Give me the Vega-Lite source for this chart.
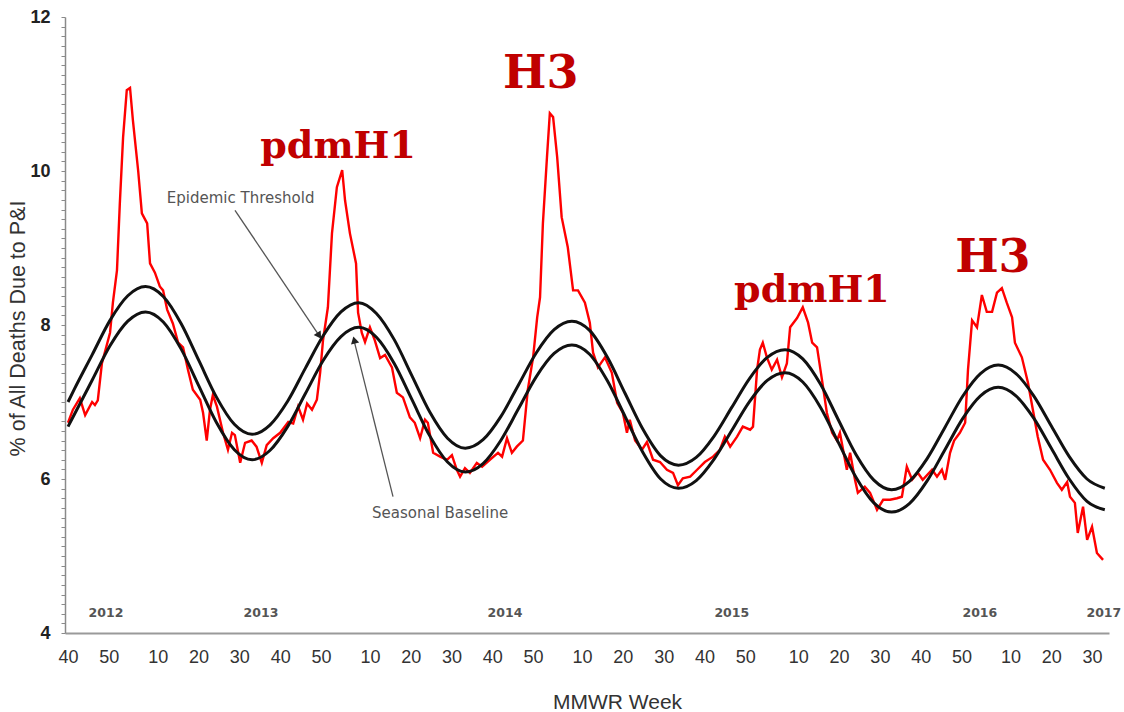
{
  "$schema": "https://vega.github.io/schema/vega-lite/v6.json",
  "width": 1044,
  "height": 616,
  "autosize": {"type": "none"},
  "padding": {"left": 65, "top": 17, "right": 15, "bottom": 79},
  "background": "white",
  "config": {"view": {"stroke": null}, "axis": {"grid": false}},
  "datasets": {
    "observed": [
      {"week": 0, "pct": 6.73}, {"week": 1.2, "pct": 6.9}, {"week": 2.9, "pct": 7.05}, {"week": 4.2, "pct": 6.83}, {"week": 5.9, "pct": 7.0}, {"week": 6.6, "pct": 6.96}, {"week": 7.3, "pct": 7.02}, {"week": 8.3, "pct": 7.5}, {"week": 10.3, "pct": 7.9}, {"week": 11, "pct": 8.29}, {"week": 12, "pct": 8.71}, {"week": 12.7, "pct": 9.58}, {"week": 13.5, "pct": 10.44}, {"week": 14.4, "pct": 11.05}, {"week": 15.2, "pct": 11.08}, {"week": 15.9, "pct": 10.66}, {"week": 17.2, "pct": 10.0}, {"week": 18.1, "pct": 9.45}, {"week": 19.4, "pct": 9.32}, {"week": 20.1, "pct": 8.8}, {"week": 21.3, "pct": 8.68}, {"week": 22.5, "pct": 8.5}, {"week": 23.3, "pct": 8.45}, {"week": 24.3, "pct": 8.2}, {"week": 25.7, "pct": 8.02}, {"week": 27, "pct": 7.77}, {"week": 28.2, "pct": 7.71}, {"week": 29.4, "pct": 7.42}, {"week": 30.6, "pct": 7.16}, {"week": 32.4, "pct": 7.03}, {"week": 33.1, "pct": 6.86}, {"week": 34, "pct": 6.5}, {"week": 34.8, "pct": 6.9}, {"week": 35.5, "pct": 7.09}, {"week": 36.5, "pct": 6.94}, {"week": 38, "pct": 6.6}, {"week": 39.2, "pct": 6.38}, {"week": 40.2, "pct": 6.6}, {"week": 40.9, "pct": 6.57}, {"week": 42.2, "pct": 6.21}, {"week": 43.4, "pct": 6.47}, {"week": 45, "pct": 6.5}, {"week": 46.2, "pct": 6.42}, {"week": 47.5, "pct": 6.21}, {"week": 48.7, "pct": 6.44}, {"week": 50.3, "pct": 6.53}, {"week": 52, "pct": 6.6}, {"week": 54, "pct": 6.74}, {"week": 55.2, "pct": 6.72}, {"week": 56.4, "pct": 6.94}, {"week": 57.6, "pct": 6.77}, {"week": 58.6, "pct": 6.98}, {"week": 59.8, "pct": 6.9}, {"week": 61, "pct": 7.03}, {"week": 61.8, "pct": 7.38}, {"week": 62.5, "pct": 7.8}, {"week": 63.7, "pct": 8.23}, {"week": 64.7, "pct": 9.19}, {"week": 65.9, "pct": 9.79}, {"week": 67.2, "pct": 10.01}, {"week": 67.9, "pct": 9.62}, {"week": 69.1, "pct": 9.19}, {"week": 70.6, "pct": 8.8}, {"week": 71.1, "pct": 8.16}, {"week": 72, "pct": 7.9}, {"week": 72.8, "pct": 7.78}, {"week": 74, "pct": 7.97}, {"week": 75.2, "pct": 7.8}, {"week": 76.5, "pct": 7.57}, {"week": 77.7, "pct": 7.61}, {"week": 79.4, "pct": 7.45}, {"week": 80.6, "pct": 7.12}, {"week": 82.1, "pct": 7.06}, {"week": 83.8, "pct": 6.8}, {"week": 85, "pct": 6.73}, {"week": 86.3, "pct": 6.53}, {"week": 87.5, "pct": 6.77}, {"week": 88.2, "pct": 6.73}, {"week": 89.5, "pct": 6.34}, {"week": 91.2, "pct": 6.29}, {"week": 92.9, "pct": 6.25}, {"week": 94.1, "pct": 6.31}, {"week": 95.3, "pct": 6.12}, {"week": 96.1, "pct": 6.03}, {"week": 97.3, "pct": 6.14}, {"week": 98.5, "pct": 6.08}, {"week": 100.2, "pct": 6.21}, {"week": 101.5, "pct": 6.16}, {"week": 103.4, "pct": 6.25}, {"week": 105.4, "pct": 6.34}, {"week": 106.4, "pct": 6.29}, {"week": 107.6, "pct": 6.53}, {"week": 108.8, "pct": 6.34}, {"week": 110, "pct": 6.42}, {"week": 111.5, "pct": 6.5}, {"week": 112.7, "pct": 7.16}, {"week": 114, "pct": 7.58}, {"week": 115, "pct": 8.1}, {"week": 115.7, "pct": 8.36}, {"week": 116.4, "pct": 9.32}, {"week": 117.4, "pct": 10.18}, {"week": 118.1, "pct": 10.75}, {"week": 118.9, "pct": 10.7}, {"week": 119.9, "pct": 10.18}, {"week": 121, "pct": 9.4}, {"week": 122.5, "pct": 9.01}, {"week": 123.8, "pct": 8.45}, {"week": 125, "pct": 8.45}, {"week": 126.7, "pct": 8.29}, {"week": 127.9, "pct": 8.03}, {"week": 128.7, "pct": 7.64}, {"week": 129.9, "pct": 7.45}, {"week": 131.6, "pct": 7.58}, {"week": 133.3, "pct": 7.38}, {"week": 134.6, "pct": 6.99}, {"week": 136, "pct": 6.86}, {"week": 137, "pct": 6.6}, {"week": 137.7, "pct": 6.77}, {"week": 139, "pct": 6.5}, {"week": 140.7, "pct": 6.38}, {"week": 141.9, "pct": 6.48}, {"week": 143.4, "pct": 6.25}, {"week": 145.1, "pct": 6.22}, {"week": 146.8, "pct": 6.12}, {"week": 148.3, "pct": 6.08}, {"week": 149.5, "pct": 5.92}, {"week": 150.7, "pct": 6.01}, {"week": 152.5, "pct": 6.03}, {"week": 154.2, "pct": 6.12}, {"week": 156.1, "pct": 6.22}, {"week": 158.1, "pct": 6.29}, {"week": 159.8, "pct": 6.38}, {"week": 161, "pct": 6.55}, {"week": 162.3, "pct": 6.42}, {"week": 164, "pct": 6.55}, {"week": 165.4, "pct": 6.68}, {"week": 167.2, "pct": 6.64}, {"week": 167.9, "pct": 6.68}, {"week": 168.9, "pct": 7.42}, {"week": 169.6, "pct": 7.68}, {"week": 170.3, "pct": 7.77}, {"week": 171.3, "pct": 7.58}, {"week": 172.5, "pct": 7.42}, {"week": 173.8, "pct": 7.55}, {"week": 175, "pct": 7.32}, {"week": 176.2, "pct": 7.5}, {"week": 177, "pct": 7.97}, {"week": 178.7, "pct": 8.09}, {"week": 180.1, "pct": 8.23}, {"week": 181.4, "pct": 8.03}, {"week": 182.4, "pct": 7.77}, {"week": 183.6, "pct": 7.71}, {"week": 184.8, "pct": 7.29}, {"week": 186, "pct": 6.86}, {"week": 187.3, "pct": 6.6}, {"week": 188.5, "pct": 6.5}, {"week": 189.2, "pct": 6.6}, {"week": 190.9, "pct": 6.12}, {"week": 191.7, "pct": 6.34}, {"week": 192.9, "pct": 5.99}, {"week": 193.6, "pct": 5.82}, {"week": 195.3, "pct": 5.9}, {"week": 196.6, "pct": 5.82}, {"week": 198.3, "pct": 5.6}, {"week": 199.8, "pct": 5.73}, {"week": 201.5, "pct": 5.73}, {"week": 203.2, "pct": 5.75}, {"week": 204.4, "pct": 5.77}, {"week": 205.6, "pct": 6.16}, {"week": 206.9, "pct": 5.99}, {"week": 208.3, "pct": 6.08}, {"week": 209.5, "pct": 5.99}, {"week": 211.8, "pct": 6.12}, {"week": 213, "pct": 6.03}, {"week": 214.2, "pct": 6.12}, {"week": 215, "pct": 5.99}, {"week": 216.2, "pct": 6.34}, {"week": 217.2, "pct": 6.5}, {"week": 218.6, "pct": 6.6}, {"week": 219.9, "pct": 6.73}, {"week": 220.6, "pct": 7.42}, {"week": 221.6, "pct": 8.06}, {"week": 222.8, "pct": 7.97}, {"week": 224, "pct": 8.39}, {"week": 225.2, "pct": 8.17}, {"week": 226.5, "pct": 8.17}, {"week": 227.7, "pct": 8.42}, {"week": 228.9, "pct": 8.48}, {"week": 230.1, "pct": 8.29}, {"week": 231.4, "pct": 8.1}, {"week": 232.1, "pct": 7.77}, {"week": 233.8, "pct": 7.58}, {"week": 235.3, "pct": 7.25}, {"week": 236.5, "pct": 6.9}, {"week": 237.7, "pct": 6.55}, {"week": 239, "pct": 6.25}, {"week": 240.7, "pct": 6.12}, {"week": 242.4, "pct": 5.95}, {"week": 243.6, "pct": 5.86}, {"week": 244.9, "pct": 5.96}, {"week": 245.6, "pct": 5.77}, {"week": 246.8, "pct": 5.69}, {"week": 247.5, "pct": 5.3}, {"week": 248.8, "pct": 5.64}, {"week": 249.8, "pct": 5.21}, {"week": 251, "pct": 5.38}, {"week": 252.2, "pct": 5.04}, {"week": 253.7, "pct": 4.95}
    ],
    "baseline": [
      {"week": 0, "pct": 6.68}, {"week": 1.58, "pct": 6.84}, {"week": 5.94, "pct": 7.285}, {"week": 10.29, "pct": 7.73}, {"week": 14.65, "pct": 8.05}, {"week": 19, "pct": 8.17},
      {"week": 23.35, "pct": 8.04}, {"week": 27.71, "pct": 7.69}, {"week": 32.06, "pct": 7.21}, {"week": 36.42, "pct": 6.73}, {"week": 40.77, "pct": 6.38}, {"week": 45.13, "pct": 6.25},
      {"week": 49.48, "pct": 6.37}, {"week": 53.83, "pct": 6.68}, {"week": 58.19, "pct": 7.11}, {"week": 62.54, "pct": 7.54}, {"week": 66.9, "pct": 7.85}, {"week": 71.25, "pct": 7.97},
      {"week": 75.6, "pct": 7.84}, {"week": 79.96, "pct": 7.5}, {"week": 84.31, "pct": 7.03}, {"week": 88.67, "pct": 6.56}, {"week": 93.02, "pct": 6.22}, {"week": 97.38, "pct": 6.09},
      {"week": 101.73, "pct": 6.2}, {"week": 106.08, "pct": 6.5}, {"week": 110.44, "pct": 6.915}, {"week": 114.79, "pct": 7.33}, {"week": 119.15, "pct": 7.63}, {"week": 123.5, "pct": 7.74},
      {"week": 127.85, "pct": 7.62}, {"week": 132.21, "pct": 7.275}, {"week": 136.56, "pct": 6.81}, {"week": 140.92, "pct": 6.345}, {"week": 145.27, "pct": 6.0}, {"week": 149.63, "pct": 5.88},
      {"week": 153.98, "pct": 5.98}, {"week": 158.33, "pct": 6.255}, {"week": 162.69, "pct": 6.63}, {"week": 167.04, "pct": 7.005}, {"week": 171.4, "pct": 7.28}, {"week": 175.75, "pct": 7.38},
      {"week": 180.1, "pct": 7.26}, {"week": 184.46, "pct": 6.93}, {"week": 188.81, "pct": 6.475}, {"week": 193.17, "pct": 6.02}, {"week": 197.52, "pct": 5.69}, {"week": 201.88, "pct": 5.57},
      {"week": 206.23, "pct": 5.68}, {"week": 210.58, "pct": 5.975}, {"week": 214.94, "pct": 6.38}, {"week": 219.29, "pct": 6.785}, {"week": 223.65, "pct": 7.08}, {"week": 228, "pct": 7.19},
      {"week": 232.35, "pct": 7.08}, {"week": 236.71, "pct": 6.79}, {"week": 241.06, "pct": 6.395}, {"week": 245.42, "pct": 6.0}, {"week": 249.77, "pct": 5.71}, {"week": 254.13, "pct": 5.6}
    ],
    "threshold": [
      {"week": 0, "pct": 7.0}, {"week": 1.58, "pct": 7.17}, {"week": 5.94, "pct": 7.615}, {"week": 10.29, "pct": 8.06}, {"week": 14.65, "pct": 8.38}, {"week": 19, "pct": 8.5},
      {"week": 23.35, "pct": 8.37}, {"week": 27.71, "pct": 8.02}, {"week": 32.06, "pct": 7.54}, {"week": 36.42, "pct": 7.06}, {"week": 40.77, "pct": 6.71}, {"week": 45.13, "pct": 6.58},
      {"week": 49.48, "pct": 6.7}, {"week": 53.83, "pct": 7.01}, {"week": 58.19, "pct": 7.44}, {"week": 62.54, "pct": 7.86}, {"week": 66.9, "pct": 8.17}, {"week": 71.25, "pct": 8.29},
      {"week": 75.6, "pct": 8.15}, {"week": 79.96, "pct": 7.81}, {"week": 84.31, "pct": 7.34}, {"week": 88.67, "pct": 6.87}, {"week": 93.02, "pct": 6.53}, {"week": 97.38, "pct": 6.4},
      {"week": 101.73, "pct": 6.51}, {"week": 106.08, "pct": 6.81}, {"week": 110.44, "pct": 7.225}, {"week": 114.79, "pct": 7.64}, {"week": 119.15, "pct": 7.94}, {"week": 123.5, "pct": 8.05},
      {"week": 127.85, "pct": 7.93}, {"week": 132.21, "pct": 7.58}, {"week": 136.56, "pct": 7.11}, {"week": 140.92, "pct": 6.645}, {"week": 145.27, "pct": 6.3}, {"week": 149.63, "pct": 6.18},
      {"week": 153.98, "pct": 6.28}, {"week": 158.33, "pct": 6.555}, {"week": 162.69, "pct": 6.93}, {"week": 167.04, "pct": 7.305}, {"week": 171.4, "pct": 7.58}, {"week": 175.75, "pct": 7.68},
      {"week": 180.1, "pct": 7.56}, {"week": 184.46, "pct": 7.23}, {"week": 188.81, "pct": 6.77}, {"week": 193.17, "pct": 6.315}, {"week": 197.52, "pct": 5.985}, {"week": 201.88, "pct": 5.86},
      {"week": 206.23, "pct": 5.97}, {"week": 210.58, "pct": 6.265}, {"week": 214.94, "pct": 6.67}, {"week": 219.29, "pct": 7.075}, {"week": 223.65, "pct": 7.37}, {"week": 228, "pct": 7.48},
      {"week": 232.35, "pct": 7.37}, {"week": 236.71, "pct": 7.08}, {"week": 241.06, "pct": 6.685}, {"week": 245.42, "pct": 6.29}, {"week": 249.77, "pct": 6.0}, {"week": 254.13, "pct": 5.88}
    ],
    "years": [
      {"week": 9.3, "pct": 4.21, "label": "2012"}, {"week": 47.3, "pct": 4.21, "label": "2013"}, {"week": 107.1, "pct": 4.21, "label": "2014"},
      {"week": 162.7, "pct": 4.21, "label": "2015"}, {"week": 223.5, "pct": 4.21, "label": "2016"}, {"week": 253.9, "pct": 4.21, "label": "2017"}
    ],
    "h3": [
      {"week": 115.9, "pct": 11.08, "label": "H3"}, {"week": 226.7, "pct": 8.69, "label": "H3"}
    ],
    "pdm": [
      {"week": 66.2, "pct": 10.17, "label": "pdmH1"}, {"week": 182.35, "pct": 8.3, "label": "pdmH1"}
    ],
    "callouts": [
      {"week": 42.3, "pct": 9.58, "label": "Epidemic Threshold"}, {"week": 91.2, "pct": 5.49, "label": "Seasonal Baseline"}
    ],
    "arrows": [
      {"week": 40.93, "pct": 9.49, "week2": 61.6, "pct2": 7.86},
      {"week": 79.66, "pct": 5.77, "week2": 70.1, "pct2": 7.8}
    ],
    "head1": [{"week": 61.57, "pct": 7.86}],
    "head2": [{"week": 70.15, "pct": 7.806}]
  },
  "encoding": {
    "x": {
      "field": "week", "type": "quantitative",
      "scale": {"domain": [-0.74, 255.16], "nice": false, "zero": false},
      "axis": {
        "values": [0, 10, 22, 32, 42, 52, 62, 74, 84, 94, 104, 114, 126, 136, 146, 156, 166, 179, 189, 199, 209, 219, 231, 241, 251],
        "labelExpr": "'' + (datum.value < 20 ? datum.value + 40 : datum.value < 70 ? datum.value - 12 : datum.value < 120 ? datum.value - 64 : datum.value < 170 ? datum.value - 116 : datum.value < 225 ? datum.value - 169 : datum.value - 221)",
        "ticks": false,
        "domainColor": "#9a9a9a", "domainWidth": 2,
        "labelFont": "Liberation Sans", "labelFontSize": 18, "labelColor": "#333333", "labelPadding": 15,
        "labelOverlap": false, "labelFlush": false,
        "title": "MMWR Week", "titleFont": "Liberation Sans", "titleFontSize": 21, "titleFontWeight": "normal",
        "titleColor": "#333333", "titleX": 552, "titleY": 75, "titleAnchor": "middle", "titleAlign": "center", "titleBaseline": "alphabetic"
      }
    },
    "y": {
      "field": "pct", "type": "quantitative",
      "scale": {"domain": [4, 12], "nice": false, "zero": false},
      "axis": {
        "values": [4, 4.125, 4.25, 4.375, 4.5, 4.625, 4.75, 4.875, 5, 5.125, 5.25, 5.375, 5.5, 5.625, 5.75, 5.875, 6, 6.125, 6.25, 6.375, 6.5, 6.625, 6.75, 6.875, 7, 7.125, 7.25, 7.375, 7.5, 7.625, 7.75, 7.875, 8, 8.125, 8.25, 8.375, 8.5, 8.625, 8.75, 8.875, 9, 9.125, 9.25, 9.375, 9.5, 9.625, 9.75, 9.875, 10, 10.125, 10.25, 10.375, 10.5, 10.625, 10.75, 10.875, 11, 11.125, 11.25, 11.375, 11.5, 11.625, 11.75, 11.875, 12],
        "labelExpr": "datum.value % 2 === 0 ? format(datum.value, 'd') : ''",
        "tickSize": 4, "tickColor": "#8a8a8a", "tickWidth": 1,
        "domainColor": "#8a8a8a", "domainWidth": 1.5,
        "labelFont": "Liberation Sans", "labelFontSize": 18, "labelFontWeight": "bold", "labelColor": "#222222", "labelPadding": 11,
        "labelOverlap": false, "labelFlush": false,
        "title": "% of All Deaths Due to P&I", "titleFont": "Liberation Sans", "titleFontSize": 21.5, "titleFontWeight": "normal",
        "titleColor": "#333333", "titleAngle": -90, "titleX": -47, "titleY": 311, "titleAlign": "center", "titleBaseline": "middle"
      }
    }
  },
  "layer": [
    {"data": {"name": "observed"}, "mark": {"type": "line", "color": "#ff0000", "strokeWidth": 2.4}, "encoding": {}},
    {"data": {"name": "baseline"}, "mark": {"type": "line", "color": "#111111", "strokeWidth": 3, "interpolate": "monotone"}, "encoding": {}},
    {"data": {"name": "threshold"}, "mark": {"type": "line", "color": "#111111", "strokeWidth": 3, "interpolate": "monotone"}, "encoding": {}},
    {"data": {"name": "years"}, "mark": {"type": "text", "font": "DejaVu Sans", "fontSize": 12.5, "fontWeight": "bold", "color": "#555555", "align": "center", "baseline": "alphabetic"}, "encoding": {"text": {"field": "label"}}},
    {"data": {"name": "h3"}, "mark": {"type": "text", "font": "DejaVu Serif", "fontSize": 46, "fontWeight": "bold", "color": "#c00000", "align": "center", "baseline": "alphabetic"}, "encoding": {"text": {"field": "label"}}},
    {"data": {"name": "pdm"}, "mark": {"type": "text", "font": "DejaVu Serif", "fontSize": 38, "fontWeight": "bold", "color": "#c00000", "align": "center", "baseline": "alphabetic"}, "encoding": {"text": {"field": "label"}}},
    {"data": {"name": "callouts"}, "mark": {"type": "text", "font": "DejaVu Sans", "fontSize": 15, "color": "#555555", "align": "center", "baseline": "alphabetic"}, "encoding": {"text": {"field": "label"}}},
    {"data": {"name": "arrows"}, "mark": {"type": "rule", "color": "#555555", "strokeWidth": 1.3}, "encoding": {"x2": {"field": "week2"}, "y2": {"field": "pct2"}}},
    {"data": {"name": "head1"}, "mark": {"type": "point", "shape": "triangle-up", "filled": true, "color": "#222222", "size": 70, "angle": 146, "opacity": 1}, "encoding": {}},
    {"data": {"name": "head2"}, "mark": {"type": "point", "shape": "triangle-up", "filled": true, "color": "#222222", "size": 70, "angle": 346, "opacity": 1}, "encoding": {}}
  ]
}
